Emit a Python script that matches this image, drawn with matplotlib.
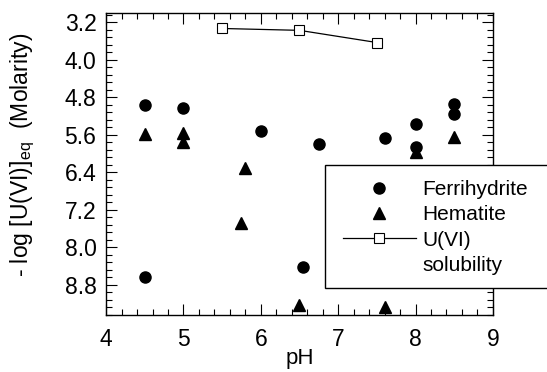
import matplotlib
matplotlib.use("Agg")
import matplotlib.pyplot as plt
from matplotlib.lines import Line2D
from matplotlib.patches import Rectangle
from matplotlib.ticker import MultipleLocator, FormatStrFormatter

plt.rcParams['font.family'] = ['Liberation Sans', 'DejaVu Sans']
plt.rcParams['mathtext.fontset'] = 'custom'
plt.rcParams['mathtext.rm'] = 'Liberation Sans'

# Ferrihydrite sorption (pH, -log[U(VI)]eq)
ferri_ph = [4.5, 4.5, 5.0, 6.0, 6.55, 6.75, 7.6, 8.0, 8.0, 8.5, 8.5]
ferri_val = [4.97, 8.64, 5.03, 5.52, 8.43, 5.80, 5.67, 5.37, 5.86, 4.94, 5.16]

# Hematite sorption
hem_ph = [4.5, 5.0, 5.0, 5.8, 5.75, 6.5, 7.6, 8.0, 8.5]
hem_val = [5.59, 5.56, 5.76, 6.31, 7.49, 9.24, 9.28, 5.97, 5.65]

# U(VI) solubility
sol_ph = [5.5, 6.5, 7.5]
sol_val = [3.33, 3.37, 3.63]

fig = plt.figure(figsize=(5.47, 3.72), dpi=100)
ax = fig.add_axes([0.194, 0.153, 0.707, 0.812])

ax.plot(ferri_ph, ferri_val, 'o', color='k', markersize=8, zorder=3)
ax.plot(hem_ph, hem_val, '^', color='k', markersize=8, zorder=3)
ax.plot(sol_ph, sol_val, '-s', color='k', markerfacecolor='white', markersize=7,
        linewidth=0.9, markeredgewidth=0.8)

ax.set_xlim(4, 9)
ax.set_ylim(9.45, 3.0)
ax.xaxis.set_major_locator(MultipleLocator(1))
ax.xaxis.set_minor_locator(MultipleLocator(0.2))
ax.yaxis.set_major_locator(MultipleLocator(0.8))
ax.yaxis.set_minor_locator(MultipleLocator(0.16))
ax.yaxis.set_major_formatter(FormatStrFormatter('%.1f'))
ax.tick_params(which='both', direction='in', top=True, right=True, labelsize=16.5, width=0.8)
ax.tick_params(which='major', length=8)
ax.tick_params(which='minor', length=4)
ax.tick_params(axis='x', pad=9)
ax.tick_params(axis='y', pad=7)
for s in ax.spines.values():
    s.set_linewidth(1.0)

ax.set_xlabel('pH', fontsize=16, labelpad=-2)
ax.set_ylabel('- log [U(VI)]$_{\\rm eq}$  (Molarity)', fontsize=16.5)
ax.yaxis.set_label_coords(-0.18, 0.53)

# legend box runs off the right edge of the figure
fig.patches.append(Rectangle((325 / 547, 1 - 288 / 372), 0.5, 123 / 372, transform=fig.transFigure,
                             facecolor='white', edgecolor='k', linewidth=1.0, zorder=4))

handles = [Line2D([], [], marker='o', color='k', linestyle='none', markersize=8),
           Line2D([], [], marker='^', color='k', linestyle='none', markersize=8),
           Line2D([], [], marker='s', color='k', markerfacecolor='white', markersize=7,
                  linewidth=0.9, markeredgewidth=0.8),
           Line2D([], [], linestyle='none')]
labels = ['Ferrihydrite', 'Hematite', 'U(VI)', 'solubility']
leg = fig.legend(handles, labels, loc='upper left', bbox_to_anchor=(343 / 547, 1 - 180 / 372),
                 bbox_transform=fig.transFigure, fontsize=15, frameon=False,
                 handlelength=3.5, handletextpad=0.3, borderpad=0, labelspacing=0.3,
                 borderaxespad=0)
leg.set_zorder(5)

fig.savefig('out.png', dpi=100)
